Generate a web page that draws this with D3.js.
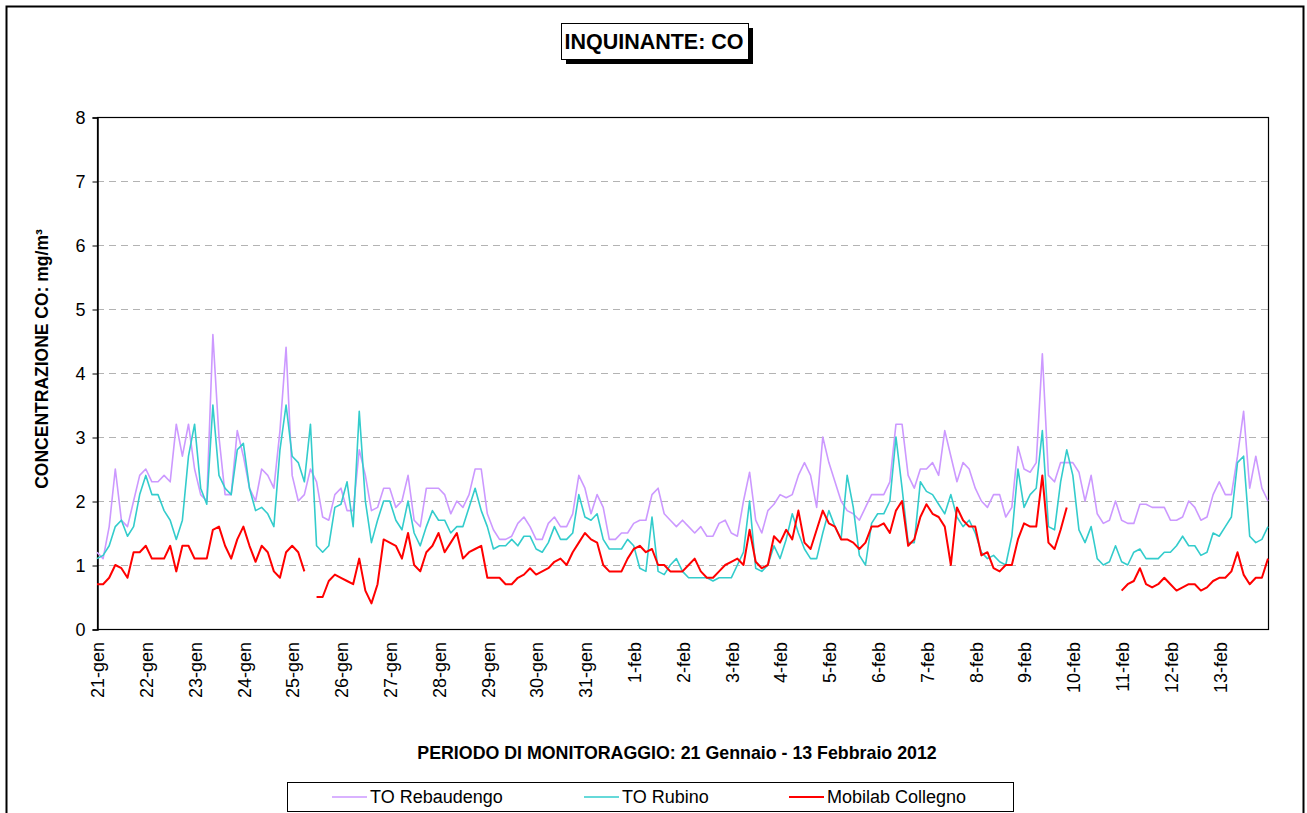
<!DOCTYPE html>
<html>
<head>
<meta charset="utf-8">
<script src="https://cdn.jsdelivr.net/npm/d3@7"></script>
<style>
  body { margin: 0; background: #fff; }
  svg { display: block; font-family: Arial, "Liberation Sans", sans-serif; }
</style>
</head>
<body>
<svg id="chart" width="1307" height="813"></svg>
<script>

/// Day labels on the x axis (one per day, 21 gen -> 13 feb 2012)
var days = ["21-gen","22-gen","23-gen","24-gen","25-gen","26-gen","27-gen","28-gen",
            "29-gen","30-gen","31-gen","1-feb","2-feb","3-feb","4-feb","5-feb",
            "6-feb","7-feb","8-feb","9-feb","10-feb","11-feb","12-feb","13-feb"];

var yTicks = [0,1,2,3,4,5,6,7,8];

/// CO readings (mg/m3), one every 3 hours, 8 per day; null = no data
var rebaudengo = [
  1.2,1.1,1.6,2.5,1.7,1.6,2.0,2.4,
  2.5,2.3,2.3,2.4,2.3,3.2,2.7,3.2,
  2.5,2.1,2.0,4.6,3.0,2.1,2.1,3.1,
  2.7,2.2,2.0,2.5,2.4,2.2,3.1,4.4,
  2.4,2.0,2.1,2.5,2.3,1.75,1.7,2.1,
  2.2,1.85,1.85,2.8,2.4,1.85,1.9,2.2,
  2.2,1.9,2.0,2.4,1.7,1.6,2.2,2.2,
  2.2,2.1,1.8,2.0,1.9,2.1,2.5,2.5,
  1.8,1.55,1.4,1.4,1.45,1.65,1.75,1.6,
  1.4,1.4,1.65,1.75,1.6,1.6,1.8,2.4,
  2.2,1.8,2.1,1.9,1.4,1.4,1.5,1.5,
  1.65,1.7,1.7,2.1,2.2,1.8,1.7,1.6,
  1.7,1.6,1.5,1.6,1.45,1.45,1.65,1.7,
  1.5,1.45,2.0,2.45,1.7,1.5,1.85,1.95,
  2.1,2.05,2.1,2.4,2.6,2.4,1.9,3.0,
  2.6,2.3,2.0,1.85,1.8,1.7,1.9,2.1,
  2.1,2.1,2.3,3.2,3.2,2.4,2.2,2.5,
  2.5,2.6,2.4,3.1,2.7,2.3,2.6,2.5,
  2.2,2.0,1.9,2.1,2.1,1.75,1.9,2.85,
  2.5,2.45,2.6,4.3,2.4,2.3,2.6,2.6,
  2.6,2.45,2.0,2.4,1.8,1.65,1.7,2.0,
  1.7,1.65,1.65,1.95,1.95,1.9,1.9,1.9,
  1.7,1.7,1.75,2.0,1.9,1.7,1.75,2.1,
  2.3,2.1,2.1,2.7,3.4,2.2,2.7,2.2,
  2.0
];

var rubino = [
  1.1,1.15,1.3,1.6,1.7,1.45,1.6,2.1,
  2.4,2.1,2.1,1.85,1.7,1.4,1.7,2.7,
  3.2,2.2,1.95,3.5,2.4,2.2,2.1,2.8,
  2.9,2.2,1.85,1.9,1.8,1.6,2.8,3.5,
  2.7,2.6,2.3,3.2,1.3,1.2,1.3,1.9,
  1.95,2.3,1.6,3.4,2.0,1.35,1.7,2.0,
  2.0,1.7,1.55,2.0,1.5,1.3,1.6,1.85,
  1.7,1.7,1.5,1.6,1.6,1.9,2.2,1.85,
  1.6,1.25,1.3,1.3,1.4,1.3,1.45,1.45,
  1.25,1.2,1.35,1.6,1.4,1.4,1.5,2.1,
  1.75,1.7,1.8,1.4,1.25,1.25,1.25,1.4,
  1.3,0.95,0.9,1.75,0.9,0.85,1.0,1.1,
  0.9,0.8,0.8,0.8,0.8,0.75,0.8,0.8,
  0.8,1.0,1.2,2.0,0.95,0.9,1.0,1.3,
  1.1,1.4,1.8,1.5,1.25,1.1,1.1,1.5,
  1.85,1.6,1.4,2.4,1.9,1.15,1.0,1.65,
  1.8,1.8,2.0,3.0,2.2,1.35,1.35,2.3,
  2.15,2.1,1.95,1.8,2.1,1.75,1.6,1.7,
  1.5,1.2,1.1,1.15,1.05,1.0,1.45,2.5,
  1.9,2.1,2.2,3.1,1.6,1.55,2.3,2.8,
  2.4,1.55,1.35,1.6,1.1,1.0,1.05,1.3,
  1.05,1.0,1.2,1.25,1.1,1.1,1.1,1.2,
  1.2,1.3,1.45,1.3,1.3,1.15,1.2,1.5,
  1.45,1.6,1.75,2.6,2.7,1.45,1.35,1.4,
  1.6
];

var mobilab = [
  0.7,0.7,0.8,1.0,0.95,0.8,1.2,1.2,
  1.3,1.1,1.1,1.1,1.3,0.9,1.3,1.3,
  1.1,1.1,1.1,1.55,1.6,1.3,1.1,1.4,
  1.6,1.3,1.05,1.3,1.2,0.9,0.8,1.2,
  1.3,1.2,0.9,null,0.5,0.5,0.75,0.85,
  0.8,0.75,0.7,1.1,0.6,0.4,0.7,1.4,
  1.35,1.3,1.1,1.5,1.0,0.9,1.2,1.3,
  1.5,1.2,1.35,1.5,1.1,1.2,1.25,1.3,
  0.8,0.8,0.8,0.7,0.7,0.8,0.85,0.95,
  0.85,0.9,0.95,1.05,1.1,1.0,1.2,1.35,
  1.5,1.4,1.35,1.0,0.9,0.9,0.9,1.1,
  1.25,1.3,1.2,1.25,1.0,1.0,0.9,0.9,
  0.9,1.0,1.1,0.9,0.8,0.8,0.9,1.0,
  1.05,1.1,1.0,1.55,1.05,0.95,1.0,1.45,
  1.35,1.55,1.4,1.85,1.35,1.25,1.55,1.85,
  1.65,1.6,1.4,1.4,1.35,1.25,1.35,1.6,
  1.6,1.65,1.5,1.85,2.0,1.3,1.4,1.75,
  1.95,1.8,1.75,1.6,1.0,1.9,1.7,1.6,
  1.6,1.15,1.2,0.95,0.9,1.0,1.0,1.4,
  1.65,1.6,1.6,2.4,1.35,1.25,1.55,1.9,
  null,null,null,null,null,null,null,null,
  0.6,0.7,0.75,0.95,0.7,0.65,0.7,0.8,
  0.7,0.6,0.65,0.7,0.7,0.6,0.65,0.75,
  0.8,0.8,0.9,1.2,0.85,0.7,0.8,0.8,
  1.1
];

var seriesNames = ["TO Rebaudengo","TO Rubino","Mobilab Collegno"];
var seriesColors = ["#cc99ff","#33cccc","#ff0000"];
var stepHours = 3;

var W = 1307, H = 813;
var m = {left: 97, right: 1268, top: 117, bottom: 629};

var svg = d3.select("#chart");

/// outer frame
svg.append("rect")
    .attr("x", 6.5).attr("y", 6.5)
    .attr("width", 1297).attr("height", 820)
    .attr("fill", "#fff").attr("stroke", "#000").attr("stroke-width", 2);

var x = d3.scaleLinear()
    .domain([0, days.length * 24])
    .range([m.left, m.right]);
var y = d3.scaleLinear()
    .domain([0, 8])
    .range([m.bottom, m.top]);

/// grid
svg.append("g").selectAll("line")
    .data(yTicks.filter(d => d > 0 && d < 8))
    .enter().append("line")
    .attr("x1", m.left).attr("x2", m.right)
    .attr("y1", d => y(d) + 0.5).attr("y2", d => y(d) + 0.5)
    .attr("stroke", "#b3b3b3")
    .attr("stroke-dasharray", "7,5");

/// plot frame
svg.append("rect")
    .attr("x", m.left + 0.5).attr("y", m.top + 0.5)
    .attr("width", m.right - m.left).attr("height", m.bottom - m.top)
    .attr("fill", "none").attr("stroke", "#000").attr("stroke-width", 1.2);

/// y axis
var yAxis = d3.axisLeft(y).tickValues(yTicks).tickSize(5).tickPadding(7);
var gy = svg.append("g")
    .attr("transform", "translate(" + (m.left + 0.5) + ",0.5)")
    .call(yAxis);
gy.select(".domain").attr("stroke", "#000").attr("stroke-width", 1.5);
gy.selectAll("text").attr("font-size", 18).attr("font-family", "Arial, 'Liberation Sans', sans-serif").attr("fill", "#000");

/// x labels, one per day, rotated
svg.append("g").selectAll("text")
    .data(days)
    .enter().append("text")
    .attr("transform", (d,i) => "translate(" + (x(i * 24) + 1) + ",642) rotate(-90)")
    .attr("dy", "0.35em")
    .attr("text-anchor", "end")
    .attr("font-size", 18)
    .text(d => d);

/// lines
var line = d3.line()
    .defined(d => d != null)
    .x((d,i) => x(i * stepHours))
    .y(d => y(d));

[rebaudengo, rubino, mobilab].forEach(function(s, k){
    svg.append("path")
        .datum(s)
        .attr("d", line)
        .attr("fill", "none")
        .attr("stroke", seriesColors[k])
        .attr("stroke-width", k == 2 ? 2 : 1.6)
        .attr("stroke-linejoin", "round");
});

/// title box with shadow
svg.append("rect")
    .attr("x", 566).attr("y", 28).attr("width", 187).attr("height", 36)
    .attr("fill", "#000");
svg.append("rect")
    .attr("x", 561.5).attr("y", 23.5).attr("width", 187).attr("height", 36)
    .attr("fill", "#fff").attr("stroke", "#000").attr("stroke-width", 1);
svg.append("text")
    .attr("x", 654).attr("y", 49)
    .attr("text-anchor", "middle")
    .attr("font-size", 21.5).attr("font-weight", "bold")
    .text("INQUINANTE: CO");

/// axis titles
svg.append("text")
    .attr("transform", "translate(42,359) rotate(-90)")
    .attr("dy", "0.35em")
    .attr("text-anchor", "middle")
    .attr("font-size", 17.5).attr("font-weight", "bold")
    .text("CONCENTRAZIONE CO: mg/m³");

svg.append("text")
    .attr("x", 677).attr("y", 759)
    .attr("text-anchor", "middle")
    .attr("font-size", 17.8).attr("font-weight", "bold")
    .text("PERIODO DI MONITORAGGIO: 21 Gennaio - 13 Febbraio 2012");

/// legend
var legX = [332, 584, 789];
svg.append("rect")
    .attr("x", 287.5).attr("y", 782.5).attr("width", 726).attr("height", 29)
    .attr("fill", "#fff").attr("stroke", "#000").attr("stroke-width", 1);
var leg = svg.append("g").selectAll("g")
    .data(seriesNames)
    .enter().append("g")
    .attr("transform", (d,i) => "translate(" + legX[i] + ",797)");
leg.append("line")
    .attr("x1", 0).attr("x2", 35)
    .attr("stroke", (d,i) => seriesColors[i])
    .attr("stroke-width", (d,i) => i == 2 ? 2 : 1.6);
leg.append("text")
    .attr("x", 38).attr("y", 6)
    .attr("font-size", 18)
    .text(d => d);

</script>
</body>
</html>
